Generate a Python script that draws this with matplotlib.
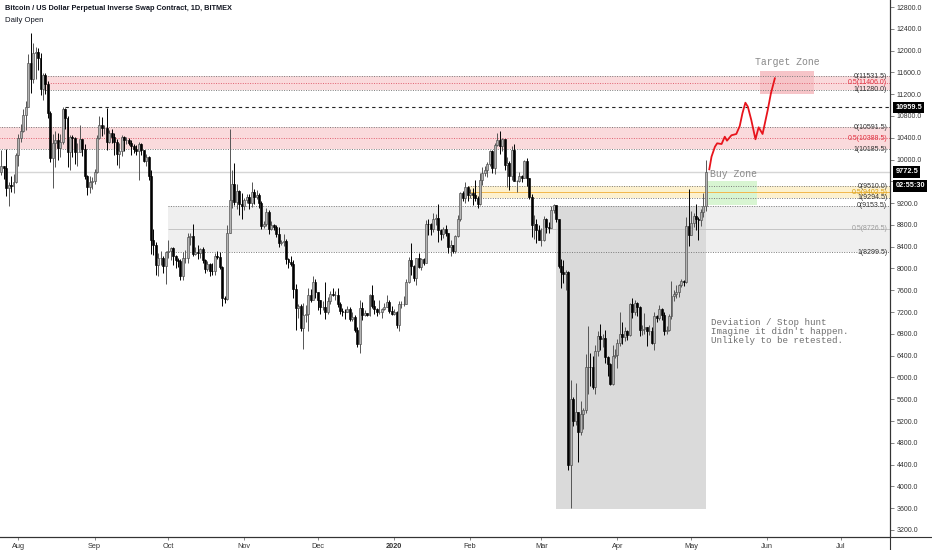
import matplotlib
matplotlib.use("Agg")
import matplotlib.pyplot as plt
import matplotlib.dates as mdates
import matplotlib.transforms as mtrans
from matplotlib.lines import Line2D
import numpy as np
import pandas as pd

# daily candles, BitMEX XBTUSD, 25 Jul 2019 .. 7 May 2020 (open = previous close)
first_open = 9770
closes = [
    9880, 9850, 9480, 9530, 9510, 9590, 10085,  # jul
    10400, 10530, 10820, 10970, 11780, 11470, 11960, 11980, 11860, 11290, 11550, 11390, 10860, 10020, 10300, 10360,
    10220, 10320, 10920, 10760, 10130, 10410, 10400, 10140, 10140, 10370, 10190, 9700, 9490, 9590, 9600,  # aug
    9770, 10390, 10630, 10580, 10580, 10330, 10490, 10410, 10320, 10110, 10160, 10420, 10360, 10360, 10310,
    10250, 10190, 10160, 10280, 10170, 9980, 10040, 9700, 8530, 8430, 8070, 8200, 8200, 8040, 8300,  # sep
    8320, 8380, 8230, 8150, 8140, 7870, 8200, 8200, 8580, 8590, 8260, 8300, 8280, 8350, 8160, 7990,
    8080, 7960, 7950, 8230, 8220, 8020, 7460, 7440, 8660, 9250, 9550, 9220, 9420, 9180, 9150,  # oct
    9250, 9310, 9200, 9400, 9320, 9350, 9200, 8780, 8810, 9040, 8720, 8800, 8760, 8640, 8460,
    8480, 8500, 8170, 8120, 8080, 7620, 7280, 7320, 6900, 7150, 7170, 7520, 7430, 7760, 7560,  # nov
    7420, 7300, 7300, 7200, 7400, 7540, 7510, 7520, 7340, 7220, 7210, 7200, 7260, 7080, 7110, 6880,
    6620, 7280, 7150, 7190, 7140, 7510, 7320, 7250, 7200, 7200, 7250, 7300, 7390, 7220, 7170,  # dec
    7200, 6960, 7340, 7350, 7350, 7760, 8150, 8050, 7820, 8190, 8030, 8180, 8110, 8820, 8810, 8720,
    8900, 8920, 8700, 8630, 8730, 8660, 8390, 8430, 8330, 8600, 8900, 9380, 9300, 9500, 9350,  # jan
    9380, 9340, 9290, 9180, 9620, 9750, 9810, 9910, 10160, 9850, 10270, 10360, 10240, 10370, 9900,
    9930, 9700, 10180, 9600, 9610, 9690, 9670, 9970, 9660, 9310, 8790, 8810, 8710, 8530,  # feb
    8530, 8910, 8760, 8750, 9070, 9160, 8900, 8040, 7940, 7890, 7940, 4400, 5600, 5200, 5360, 5000,
    5330, 5400, 6190, 6200, 6190, 5830, 6490, 6760, 6700, 6730, 6370, 6250, 5880, 6400, 6420,  # mar
    6640, 6800, 6740, 6860, 6780, 7340, 7200, 7370, 7300, 6870, 6890, 6920, 6850, 6860, 6640,
    7120, 7100, 7260, 7140, 6850, 6870, 7130, 7500, 7540, 7560, 7700, 7770, 7760, 8780, 8620,  # apr
    8830, 8970, 8900, 8890, 9030, 9150, 9772.5,  # may
]
highs = [
    10180, 9890, 10200, 9590, 9700, 9730, 10120,
    10460, 10650, 10920, 11080, 11940, 12320, 12140, 12060, 12040, 11950, 11580, 11580, 11440, 10900, 10460, 10530,
    10480, 10470, 10960, 10950, 10800, 10450, 10450, 10420, 10300, 10630, 10380, 10290, 9720, 9690, 9680,
    9830, 10450, 10800, 10780, 10640, 10950, 10550, 10560, 10480, 10380, 10300, 10450, 10440, 10420, 10390,
    10360, 10280, 10260, 10320, 10300, 10180, 10100, 10060, 9800, 8730, 8480, 8290, 8330, 8230, 8330,
    8520, 8390, 8390, 8240, 8200, 8180, 8300, 8340, 8660, 8650, 8810, 8400, 8440, 8380, 8400, 8170,
    8130, 8110, 8100, 8290, 8330, 8300, 8040, 7500, 8800, 10560, 9800, 9930, 9550, 9450, 9380,
    9300, 9370, 9360, 9580, 9460, 9440, 9380, 9230, 8880, 9110, 9070, 8870, 8810, 8790, 8760,
    8530, 8630, 8540, 8190, 8230, 8150, 7720, 7340, 7350, 7370, 7330, 7650, 7620, 7860, 7800,
    7560, 7420, 7400, 7750, 7480, 7580, 7640, 7590, 7640, 7390, 7270, 7260, 7310, 7290, 7200, 7150,
    6930, 7420, 7380, 7230, 7190, 7530, 7690, 7420, 7270, 7430, 7270, 7360, 7520, 7420, 7320,
    7250, 7220, 7410, 7400, 7500, 7800, 8210, 8460, 8060, 8200, 8290, 8200, 8190, 8890, 8900, 8840,
    9020, 9000, 9190, 8730, 8760, 8800, 8660, 8520, 8440, 8610, 8980, 9400, 9420, 9580, 9520,
    9460, 9480, 9620, 9330, 9750, 9860, 9880, 9950, 10180, 10180, 10310, 10480, 10530, 10400, 10380,
    10050, 9980, 10250, 10290, 9630, 9770, 9720, 9990, 10030, 9670, 9360, 8990, 8900, 8800,
    8750, 8960, 8920, 8850, 9140, 9180, 9170, 8900, 8180, 8150, 7980, 7960, 5950, 5650, 5900, 5370,
    5560, 5440, 6430, 6950, 6450, 6400, 6600, 6850, 6980, 6800, 6870, 6400, 6260, 6600, 6520,
    6700, 7200, 7020, 6920, 6880, 7360, 7460, 7420, 7380, 7320, 6960, 7180, 6920, 6970, 6930,
    7200, 7150, 7330, 7270, 7200, 6950, 7160, 7770, 7610, 7700, 7720, 7800, 7790, 8950, 9460,
    9060, 9010, 9190, 8950, 9090, 9380, 9990,
]
lows = [
    9720, 9650, 9330, 9150, 9400, 9390, 9570,
    9890, 10330, 10500, 10550, 10960, 11230, 11400, 11470, 11650, 11180, 11100, 11200, 10770, 9950, 9470, 9870,
    10000, 10050, 10280, 10560, 9860, 9800, 10050, 9920, 9880, 10140, 10060, 9640, 9350, 9380, 9460,
    9560, 9760, 10370, 10430, 10470, 10180, 10300, 10300, 10080, 9900, 9850, 10060, 10150, 10280, 10270,
    10080, 10120, 10090, 9620, 10080, 9960, 9880, 9620, 8270, 8250, 7880, 7860, 8070, 7920, 7710,
    8200, 8160, 8060, 8000, 8020, 7780, 7790, 8100, 8100, 8430, 8230, 8250, 8180, 8200, 8100, 7920,
    7950, 7860, 7880, 7880, 8170, 7990, 7320, 7360, 7430, 8650, 9110, 9170, 9100, 8990, 8910,
    9080, 9200, 9100, 9130, 9190, 9270, 9110, 8730, 8740, 8780, 8640, 8700, 8700, 8580, 8400,
    8440, 8420, 8080, 8000, 8040, 7450, 6880, 7100, 6860, 6520, 7020, 6850, 7380, 7420, 7460,
    7240, 7160, 7240, 7080, 7170, 7350, 7490, 7430, 7300, 7160, 7130, 7080, 7200, 7030, 7030, 6840,
    6560, 6440, 7050, 7120, 7120, 7130, 7270, 7170, 7130, 7160, 7090, 7240, 7290, 7180, 7140,
    7150, 6900, 6860, 7270, 7310, 7350, 7730, 7880, 7770, 7700, 8000, 7970, 8060, 8100, 8620, 8610,
    8670, 8800, 8490, 8530, 8560, 8600, 8290, 8230, 8280, 8290, 8580, 8880, 9240, 9200, 9240,
    9300, 9160, 9230, 9110, 9170, 9540, 9700, 9680, 9880, 9750, 9730, 10250, 10100, 10150, 9810,
    9500, 9450, 9620, 9600, 9400, 9580, 9590, 9660, 9520, 9280, 8570, 8540, 8460, 8520,
    8420, 8500, 8660, 8660, 8740, 9010, 8850, 8000, 7640, 7730, 7600, 4300, 3600, 5100, 5120, 4440,
    4940, 5050, 5350, 5700, 5850, 5790, 5700, 6400, 6500, 6550, 6260, 6030, 5870, 5860, 6350,
    6170, 6580, 6620, 6670, 6690, 6770, 7100, 7150, 7120, 6760, 6780, 6800, 6570, 6780, 6620,
    6500, 7020, 7060, 7050, 6780, 6800, 6850, 7080, 7410, 7450, 7480, 7660, 7680, 7730, 8420,
    8620, 8760, 8700, 8530, 8780, 8950, 9050,
]
start_day = "2019-07-25"

# fib zones: (start date, level 0, level 0.5, level 1)
red_zone_top = ("2019-08-11", 11531.5, 11406.0, 11280.0)
red_zone_mid = ("2019-07-20", 10591.5, 10388.5, 10185.5)
yellow_zone = ("2020-01-31", 9510.0, 9402.5, 9294.5)
grey_zone = ("2019-10-01", 9153.5, 8726.5, 8299.5)
swing_high = ("2019-08-20", 10959.5)
last_price = 9772.5
countdown = "02:55:30"

# projected path drawn by hand (days after 1 May 2020, price)
proj_days = [7.4, 8.3, 9.7, 10.6, 12.4, 13.7, 14.6, 16.4, 18.4, 19.8,
             20.9, 22.1, 23.1, 24.5, 26.2, 27.5, 29.1, 31.2, 32.5, 34.1]
proj_price = [9821, 10052, 10236, 10298, 10285, 10419, 10346, 10445, 10469, 10616,
              10849, 11043, 10970, 10726, 10372, 10592, 10469, 10909, 11216, 11491]

# boxes: (x0, x1, y0, y1)
stop_hunt_box = ("2020-03-07", "2020-05-07", 3590, 9153.5)
buy_box = ("2020-05-07", "2020-05-28", 9166, 9612)
target_box = ("2020-05-29", "2020-06-20", 11203, 11631)

months = ["2019-08-01", "2019-09-01", "2019-10-01", "2019-11-01", "2019-12-01", "2020-01-01",
          "2020-02-01", "2020-03-01", "2020-04-01", "2020-05-01", "2020-06-01", "2020-07-01"]
month_labels = ["Aug", "Sep", "Oct", "Nov", "Dec", "2020", "Feb", "Mar", "Apr", "May", "Jun", "Jul"]

d2n = lambda s: mdates.date2num(pd.Timestamp(s))

dates = mdates.date2num(pd.date_range(start_day, periods=len(closes)))
c = np.array(closes, dtype=float)
o = np.concatenate([[first_open], c[:-1]])
h = np.array(highs, dtype=float)
l = np.array(lows, dtype=float)
up = c >= o

fig = plt.figure(figsize=(9.32, 5.5), dpi=100)
ax = fig.add_axes([0, 13 / 550, 890 / 932, 537 / 550])
x_left, x_right = d2n("2019-07-24") + 0.5, d2n("2020-07-21")
ax.set_xlim(x_left, x_right)
ax.set_ylim(3071.5, 12928.5)
trans = mtrans.blended_transform_factory(ax.transAxes, ax.transData)

mono = "Liberation Mono"
sans = "Liberation Sans"


def zone(spec, fill, mid_col, lab_col, mid_style):
    x0 = d2n(spec[0])
    top, mid, bot = spec[1], spec[2], spec[3]
    ax.fill_between([x0, x_right], bot, top, color=fill, lw=0, zorder=0)
    for lev, col, ls, lab in [(top, "#7a7a7a", (0, (1, 1.5)), "0(%.1f)" % top),
                              (mid, mid_col, mid_style, "0.5(%.1f)" % mid),
                              (bot, "#7a7a7a", (0, (1, 1.5)), "1(%.1f)" % bot)]:
        ax.hlines(lev, x0, x_right, colors=col, linestyles=[ls], lw=0.7, zorder=1)
        ax.text(0.997, lev, lab, transform=trans, ha="right", va="center",
                fontsize=5, family=sans, color=lab_col if lev == mid else "#333333", zorder=6)


zone(grey_zone, "#efefef", "#c4c4c4", "#9a9a9a", "-")
zone(red_zone_mid, "#fadadc", "#e06070", "#e0303f", (0, (1, 1.5)))
zone(red_zone_top, "#fadadc", "#e06070", "#e0303f", (0, (1, 1.5)))
zone(yellow_zone, "#fdf1cf", "#f2b84b", "#d4a017", "-")

# stop hunt box, buy zone, target zone
sx0, sx1, sy0, sy1 = stop_hunt_box
ax.fill_between([d2n(sx0), d2n(sx1)], sy0, sy1, color="#dadada", lw=0, zorder=0.5)
bx0, bx1, by0, by1 = buy_box
ax.fill_between([d2n(bx0), d2n(bx1)], by0, by1, color="#d8f5d2", lw=0, zorder=0.5)
tx0, tx1, ty0, ty1 = target_box
ax.fill_between([d2n(tx0), d2n(tx1)], ty0, ty1, color="#f6c4c8", lw=0, zorder=0.5)

# lines
ax.hlines(swing_high[1], d2n(swing_high[0]), x_right, colors="#222222",
          linestyles=[(0, (3, 3))], lw=0.8, zorder=2)
ax.axhline(last_price, color="#d6d6d6", lw=1.0, zorder=0.8)

# candles
wick_col = np.where(up, "#555555", "#000000")
ax.vlines(dates, l, h, colors=wick_col, lw=0.7, zorder=3)
ax.bar(dates, np.abs(c - o), bottom=np.minimum(o, c), width=0.8,
       color=np.where(up, "#b4b4b4", "#000000"), edgecolor=np.where(up, "#4a4a4a", "#000000"),
       linewidth=0.45, zorder=4)

# projection
ax.plot(d2n("2020-05-01") + np.array(proj_days), proj_price, color="#e8141c", lw=1.3, zorder=5)

# annotations
ax.text(d2n(tx0) + (d2n(tx1) - d2n(tx0)) / 2, ty1 + 60, "Target Zone", ha="center", va="bottom",
        fontsize=7, family=mono, color="#8a8a8a")
ax.text(d2n(bx0) + 1.5, 9830, "Buy Zone", ha="left", va="top", fontsize=7, family=mono, color="#8a8a8a")
ax.text(d2n(bx0) + 2, 7100, "Deviation / Stop hunt\nImagine it didn't happen.\nUnlikely to be retested.",
        ha="left", va="top", fontsize=6.6, family=mono, color="#6f6f6f", linespacing=1.05)

# axes styling
for s in ["top", "left"]:
    ax.spines[s].set_visible(False)
ax.spines["right"].set_color("#333333")
ax.spines["bottom"].set_color("#333333")
ax.spines["right"].set_linewidth(0.8)
ax.spines["bottom"].set_linewidth(0.8)
ax.yaxis.tick_right()
yticks = np.arange(3200, 12801, 400)
ax.set_yticks(yticks)
# 9600 sits under the last-price tags on the scale
ax.set_yticklabels(["" if v == 9600 else "%.1f" % v for v in yticks])
ax.tick_params(axis="y", length=3, width=0.5, color="#555555", labelsize=5, labelcolor="#333333", pad=2)
ax.set_xticks([d2n(m) for m in months])
ax.set_xticklabels(month_labels)
ax.tick_params(axis="x", length=2, width=0.5, color="#555555", labelsize=5.3, labelcolor="#333333", pad=2)
for lab in ax.get_xticklabels():
    lab.set_family(sans)
    if lab.get_text() == "2020":
        lab.set_fontweight("bold")
for lab in ax.get_yticklabels():
    lab.set_family(sans)

# price tags on the scale
tag = dict(boxstyle="square,pad=0.3", fc="#000000", ec="none")
for val in [swing_high[1], last_price]:
    ax.text(1.006, val, "%.1f" % val, transform=trans, ha="left", va="center", fontsize=5.3, family=sans,
            color="white", fontweight="bold", clip_on=False, zorder=10, bbox=tag)
ax.text(1.006, last_price - 255, countdown, transform=trans, ha="left", va="center", fontsize=5.3,
        family=sans, color="white", fontweight="bold", clip_on=False, zorder=10, bbox=tag)

fig.add_artist(Line2D([0, 1], [13 / 550, 13 / 550], color="#333333", lw=0.8))
fig.add_artist(Line2D([890 / 932, 890 / 932], [0, 1], color="#333333", lw=0.8))

fig.text(5 / 932, 1 - 8 / 550, "Bitcoin / US Dollar Perpetual Inverse Swap Contract, 1D, BITMEX",
         fontsize=5.3, family=sans, color="#131722", fontweight="bold", va="center")
fig.text(5 / 932, 1 - 20 / 550, "Daily Open", fontsize=5.6, family=sans, color="#131722", va="center")

fig.savefig("out.png", dpi=100)
